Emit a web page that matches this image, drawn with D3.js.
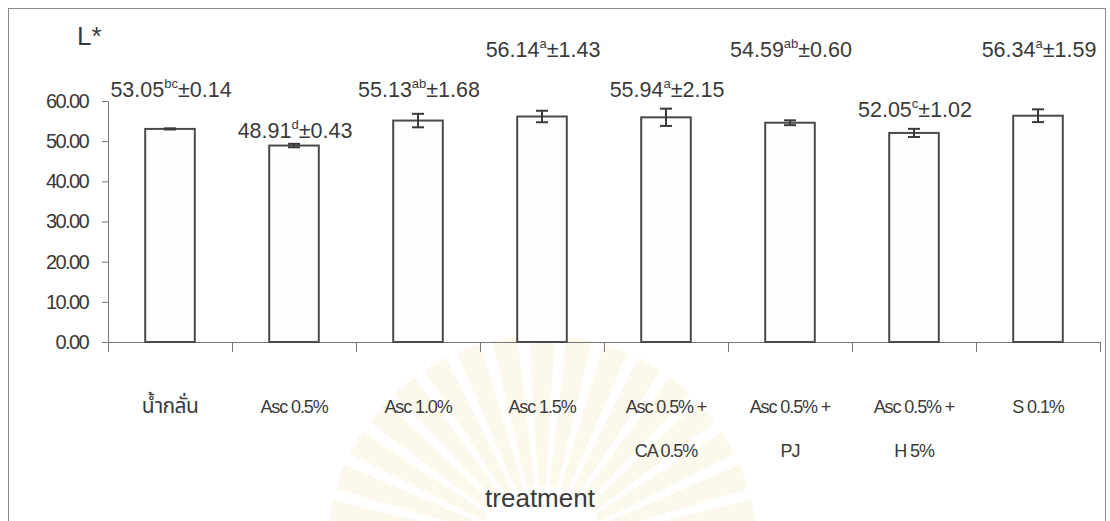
<!DOCTYPE html>
<html>
<head>
<meta charset="utf-8">
<script src="https://cdn.jsdelivr.net/npm/d3@7/dist/d3.min.js"></script>
<style>
  html, body { margin: 0; padding: 0; background: #fff; }
  svg { display: block; }
  text { font-family: "Liberation Sans", Arial, "Noto Sans Thai", "Noto Sans", sans-serif; fill: #3a3a3a; }
</style>
</head>
<body>
<svg id="chart" width="1110" height="521"></svg>
<script>
// Treatment names (two-line labels where the name wraps)
const categories = ["น้ำกลั่น", "Asc 0.5%", "Asc 1.0%", "Asc 1.5%", "Asc 0.5% + CA 0.5%", "Asc 0.5% + PJ", "Asc 0.5% + H 5%", "S 0.1%"];
const categoryLines = [["น้ำกลั่น"], ["Asc 0.5%"], ["Asc 1.0%"], ["Asc 1.5%"], ["Asc 0.5% +", "CA 0.5%"], ["Asc 0.5% +", "PJ"], ["Asc 0.5% +", "H 5%"], ["S 0.1%"]];

// Mean L* value, standard deviation and significance letters
const meanValues = [53.05, 48.91, 55.13, 56.14, 55.94, 54.59, 52.05, 56.34];
const sdValues = [0.14, 0.43, 1.68, 1.43, 2.15, 0.60, 1.02, 1.59];
const groupLetters = ["bc", "d", "ab", "a", "a", "ab", "c", "a"];

const yTicks = [0, 10, 20, 30, 40, 50, 60];

const svg = d3.select("#chart");

// Faint sunburst emblem behind the axis title
const emblem = svg.append("g").attr("transform", "translate(542,550)");
const rayCount = 36;
const rayArc = d3.arc().innerRadius(64).outerRadius(215)
  .startAngle(i => i * (2 * Math.PI / rayCount) - 0.06)
  .endAngle(i => i * (2 * Math.PI / rayCount) + 0.06);
emblem.selectAll("path").data(d3.range(rayCount)).join("path")
  .attr("d", rayArc)
  .attr("fill", "#f3e2a8")
  .attr("opacity", 0.22);

// Outer frame
svg.append("rect")
  .attr("x", 8.5).attr("y", 8.5).attr("width", 1097).attr("height", 530)
  .attr("fill", "none").attr("stroke", "#8a8a8a").attr("stroke-width", 1);

const plotLeft = 108, plotRight = 1100, plotTop = 101, plotBottom = 342;

const x = d3.scaleBand().domain(categories).range([plotLeft, plotRight])
  .paddingInner(0.6).paddingOuter(0.3);
const y = d3.scaleLinear().domain([0, 60]).range([plotBottom, plotTop]);
const xEdge = d3.scaleLinear().domain([0, categories.length]).range([plotLeft, plotRight]);

// Y axis
const yAxis = svg.append("g")
  .attr("transform", `translate(${plotLeft},0)`)
  .call(d3.axisLeft(y).tickValues(yTicks).tickFormat(d3.format(".2f")).tickSize(6).tickSizeOuter(0));
yAxis.select(".domain").attr("stroke", "#777");
yAxis.selectAll(".tick line").attr("stroke", "#777");
yAxis.selectAll(".tick text")
  .attr("x", -20)
  .style("font-size", "20px")
  .style("letter-spacing", "-1.6px")
  .attr("fill", "#3a3a3a");

// X axis with ticks on category boundaries
const xAxis = svg.append("g")
  .attr("transform", `translate(0,${plotBottom})`)
  .call(d3.axisBottom(xEdge).tickValues(d3.range(categories.length + 1)).tickFormat("").tickSize(10).tickSizeOuter(0));
xAxis.select(".domain").attr("stroke", "#777");
xAxis.selectAll(".tick line").attr("stroke", "#777");

// Bars
svg.append("g").selectAll("rect").data(categories).join("rect")
  .attr("x", d => x(d))
  .attr("y", (d, i) => y(meanValues[i]))
  .attr("width", x.bandwidth())
  .attr("height", (d, i) => y(0) - y(meanValues[i]))
  .attr("fill", "#fdfdfd")
  .attr("stroke", "#4a4a4a")
  .attr("stroke-width", 2);

// Error bars
const capHalf = 6;
const err = svg.append("g").attr("stroke", "#3a3a3a").attr("stroke-width", 2);
categories.forEach((c, i) => {
  const cx = x(c) + x.bandwidth() / 2;
  const hi = y(meanValues[i] + sdValues[i]);
  const lo = y(meanValues[i] - sdValues[i]);
  err.append("line").attr("x1", cx).attr("x2", cx).attr("y1", hi).attr("y2", lo);
  err.append("line").attr("x1", cx - capHalf).attr("x2", cx + capHalf).attr("y1", hi).attr("y2", hi);
  err.append("line").attr("x1", cx - capHalf).attr("x2", cx + capHalf).attr("y1", lo).attr("y2", lo);
});

// Value labels, staggered on a few rows so they do not collide
const labelTier = [1, 3, 1, 0, 1, 0, 2, 0];
const tierY = [57, 97, 117, 138];
const labels = svg.append("g");
categories.forEach((c, i) => {
  const t = labels.append("text")
    .attr("x", x(c) + x.bandwidth() / 2 + 1)
    .attr("y", tierY[labelTier[i]])
    .attr("text-anchor", "middle")
    .style("font-size", "21.5px");
  t.append("tspan").text(meanValues[i].toFixed(2));
  t.append("tspan").attr("dy", -9).style("font-size", "13px").text(groupLetters[i]);
  t.append("tspan").attr("dy", 9).text("±" + sdValues[i].toFixed(2));
});

// Category labels (Thai script set slightly larger)
const isThai = s => /[\u0E00-\u0E7F]/.test(s);
const catG = svg.append("g");
categories.forEach((c, i) => {
  const cx = x(c) + x.bandwidth() / 2;
  const t = catG.append("text")
    .attr("x", cx)
    .attr("y", 413)
    .attr("text-anchor", "middle")
    .style("font-size", "18px")
    .style("letter-spacing", "-1.1px");
  categoryLines[i].forEach((line, k) => {
    const ts = t.append("tspan").attr("x", cx).attr("y", 413 + k * 44).text(line);
    if (isThai(line)) ts.style("font-size", "21px").style("letter-spacing", "-0.6px");
  });
});

// Axis titles
svg.append("text").attr("x", 77).attr("y", 45).style("font-size", "26px").text("L*");
svg.append("text").attr("x", 540).attr("y", 507).attr("text-anchor", "middle")
  .style("font-size", "26px").text("treatment");
</script>
</body>
</html>
